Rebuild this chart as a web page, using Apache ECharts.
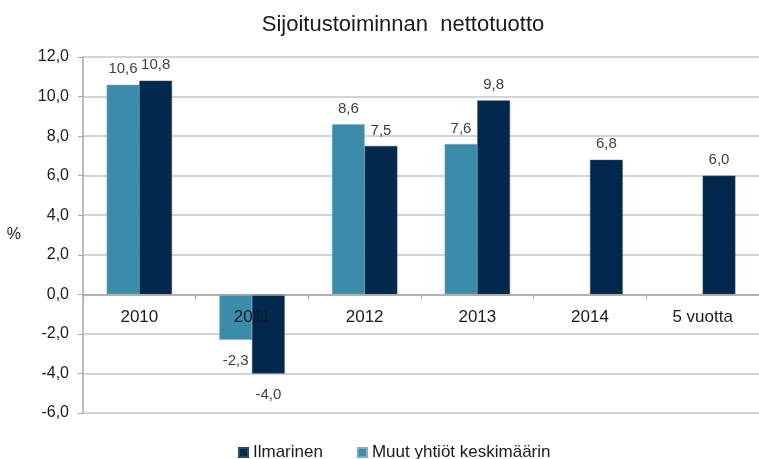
<!DOCTYPE html>
<html>
<head>
<meta charset="utf-8">
<script src="https://cdn.jsdelivr.net/npm/echarts@6/dist/echarts.min.js"></script>
<style>
  html, body { margin: 0; padding: 0; background: #fff; }
  #chart { width: 759px; height: 459px; }
</style>
</head>
<body>
<div id="chart"></div>
<script>
// data
const categories = ['2010', '2011', '2012', '2013', '2014', '5 vuotta']
const muut = [10.6, -2.3, 8.6, 7.6, null, null]
const ilmarinen = [10.8, -4.0, 7.5, 9.8, 6.8, 6.0]
const yTicks = { min: -6, max: 12, interval: 2 }

const fmt = v => v.toFixed(1).replace('.', ',')

// negative bars get their label under the bar end
const withLabels = arr => arr.map(v => v == null ? null : {
  value: v,
  label: v < 0 ? { position: 'bottom', distance: 14 } : { position: 'top', distance: 8 }
})

const gridTop = 57
const gridHeight = 356
// category axis sits on the zero line
const zeroOffset = -gridHeight * (0 - yTicks.min) / (yTicks.max - yTicks.min)

const chart = echarts.init(document.getElementById('chart'))

chart.setOption({
  backgroundColor: '#fff',
  animation: false,
  textStyle: { fontFamily: 'Liberation Sans, Arial, sans-serif' },
  title: {
    text: 'Sijoitustoiminnan  nettotuotto',
    left: 398,
    textAlign: 'center',
    top: 9,
    textStyle: { fontSize: 22, fontWeight: 'normal', color: '#1a1a1a' }
  },
  legend: {
    data: ['Ilmarinen', 'Muut yhtiöt keskimäärin'],
    left: 233,
    top: 439,
    icon: 'rect',
    itemWidth: 9,
    itemHeight: 9,
    itemGap: 34,
    textStyle: { fontSize: 17, color: '#1a1a1a' }
  },
  grid: {
    left: 83,
    top: gridTop,
    width: 685,
    height: gridHeight,
    containLabel: false
  },
  xAxis: {
    type: 'category',
    data: categories,
    offset: zeroOffset,
    z: 5,
    axisLine: { onZero: false, lineStyle: { color: '#a6a6a6', width: 1.5 } },
    axisTick: { show: true, length: 5, lineStyle: { color: '#a6a6a6' } },
    axisLabel: { color: '#1a1a1a', fontSize: 17, margin: 14, interval: 0 }
  },
  yAxis: {
    type: 'value',
    min: yTicks.min,
    max: yTicks.max,
    interval: yTicks.interval,
    name: '%',
    nameLocation: 'middle',
    nameRotate: 0,
    nameGap: 62,
    nameTextStyle: { color: '#1a1a1a', fontSize: 16 },
    axisLine: { show: true, lineStyle: { color: '#a6a6a6', width: 1.5 } },
    axisTick: { show: true, length: 5, lineStyle: { color: '#a6a6a6' } },
    axisLabel: { color: '#1a1a1a', fontSize: 16, margin: 14, formatter: v => fmt(v) },
    splitLine: { lineStyle: { color: '#c4c4c4', width: 1.5 } }
  },
  series: [
    {
      name: 'Muut yhtiöt keskimäärin',
      type: 'bar',
      data: withLabels(muut),
      barGap: '0%',
      barCategoryGap: '42%',
      itemStyle: { color: '#3a8caa', borderColor: '#6fb0c8', borderWidth: 0.5 },
      label: {
        show: true,
        color: '#404040',
        fontSize: 15,
        formatter: p => fmt(p.value)
      }
    },
    {
      name: 'Ilmarinen',
      type: 'bar',
      data: withLabels(ilmarinen),
      barGap: '0%',
      barCategoryGap: '42%',
      itemStyle: { color: '#03284d', borderColor: '#2a4a6e', borderWidth: 0.5 },
      label: {
        show: true,
        color: '#404040',
        fontSize: 15,
        formatter: p => fmt(p.value)
      }
    }
  ]
})
</script>
</body>
</html>
